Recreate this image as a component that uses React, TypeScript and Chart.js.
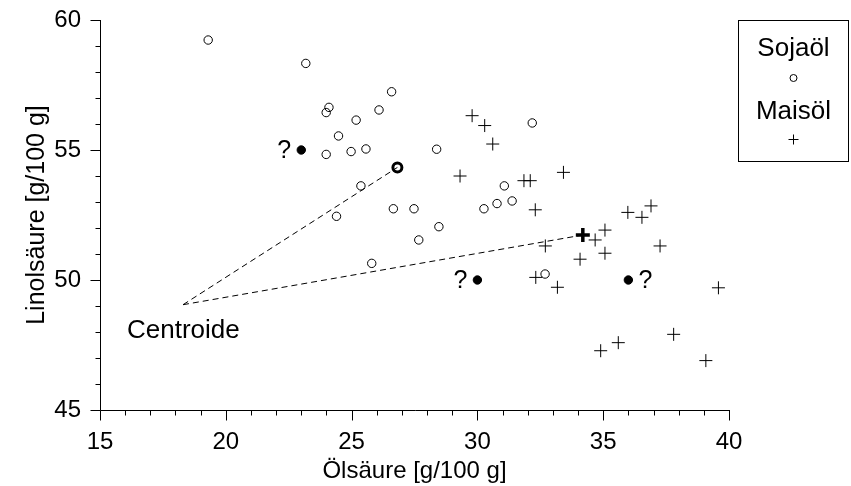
import React, { useEffect, useRef } from "react";
import { Chart, registerables } from "chart.js";

Chart.register(...registerables);

// ---- data ----
const sojaX = [19.3, 23.18, 24.1, 23.99, 26.09, 26.59, 25.18, 24.48, 23.99, 24.98, 25.57, 28.38, 32.18, 25.37, 24.4, 26.66, 27.48, 28.47, 27.67, 25.8, 30.26, 30.78, 31.38, 31.07, 32.69];
const sojaY = [59.23, 58.33, 56.64, 56.44, 56.54, 57.24, 56.15, 55.54, 54.83, 54.94, 55.04, 55.03, 56.04, 53.62, 52.45, 52.74, 52.74, 52.05, 51.54, 50.64, 52.74, 52.94, 53.04, 53.62, 50.23];

const maisX = [29.79, 30.29, 30.61, 29.31, 31.85, 32.1, 33.42, 32.3, 32.7, 32.32, 33.18, 34.08, 34.68, 35.07, 35.07, 35.98, 36.54, 36.9, 37.26, 39.58, 37.8, 35.6, 34.9, 39.08];
const maisY = [56.32, 55.94, 55.23, 54.0, 53.82, 53.82, 54.14, 52.7, 51.31, 50.1, 49.72, 50.8, 51.54, 51.92, 51.03, 52.6, 52.41, 52.85, 51.31, 49.7, 47.91, 47.59, 47.28, 46.9];

const unknownX = [23, 30, 36];
const unknownY = [55, 50, 50];
const unknownLabel = ["?", "?", "?"];
const unknownSide = ["left", "left", "right"];

const centroidAll = { x: 18.3, y: 49.05 };
const centroidSoja = { x: 26.82, y: 54.33 };
const centroidMais = { x: 34.19, y: 51.73 };
const centroidLabel = "Centroide";

const xMin = 15, xMax = 40, xMajor = 5, xMinor = 1;
const yMin = 45, yMax = 60, yMajor = 5, yMinor = 1;
const xTitle = "Ölsäure [g/100 g]";
const yTitle = "Linolsäure [g/100 g]";
const legendLabels = ["Sojaöl", "Maisöl"];

const FONT = "'Liberation Sans', Arial, Helvetica, sans-serif";

const overlay = {
  id: "overlay",
  afterDraw(chart: any) {
    const ctx = chart.ctx;
    const xs = chart.scales.x;
    const ys = chart.scales.y;
    const ca = chart.chartArea;
    ctx.save();
    ctx.strokeStyle = "#000";
    ctx.fillStyle = "#000";
    ctx.lineWidth = 1;
    // axes
    const ax = Math.round(ca.left) + 0.5;
    const ay = Math.round(ca.bottom) + 0.5;
    ctx.beginPath();
    ctx.moveTo(ax, Math.round(ca.top));
    ctx.lineTo(ax, ay);
    ctx.lineTo(Math.round(ca.right) + 1, ay);
    ctx.stroke();
    // ticks
    ctx.beginPath();
    for (let v = xMin; v <= xMax + 1e-9; v += xMinor) {
      const px = Math.round(xs.getPixelForValue(v)) + 0.5;
      const len = Math.abs(v % xMajor) < 1e-9 ? 10 : 5;
      ctx.moveTo(px, ay);
      ctx.lineTo(px, ay + len);
    }
    for (let v = yMin; v <= yMax + 1e-9; v += yMinor) {
      const py = Math.round(ys.getPixelForValue(v)) + 0.5;
      const len = Math.abs(v % yMajor) < 1e-9 ? 10 : 5;
      ctx.moveTo(ax, py);
      ctx.lineTo(ax - len, py);
    }
    ctx.stroke();

    // annotations
    ctx.font = `25px ${FONT}`;
    ctx.textBaseline = "middle";
    ctx.textAlign = "center";
    for (let i = 0; i < unknownX.length; i++) {
      const px = xs.getPixelForValue(unknownX[i]);
      const py = ys.getPixelForValue(unknownY[i]);
      const dx = unknownSide[i] === "left" ? -17 : 17;
      ctx.fillText(unknownLabel[i], px + dx, py + 1);
    }
    ctx.font = `26px ${FONT}`;
    const cx = xs.getPixelForValue(centroidAll.x);
    const cy = ys.getPixelForValue(centroidAll.y);
    ctx.textAlign = "left";
    ctx.fillText(centroidLabel, cx - 56, cy + 26);

    // legend
    const L = 738.5, T = 20.5, W = 110, H = 141;
    ctx.strokeRect(L, T, W, H);
    const mx = L + W / 2;
    ctx.textAlign = "center";
    ctx.fillText(legendLabels[0], mx, 49);
    ctx.fillText(legendLabels[1], mx, 112);
    ctx.beginPath();
    ctx.arc(mx, 78, 3.5, 0, Math.PI * 2);
    ctx.stroke();
    ctx.beginPath();
    ctx.moveTo(mx - 5, 139.5);
    ctx.lineTo(mx + 5, 139.5);
    ctx.moveTo(mx, 134.5);
    ctx.lineTo(mx, 144.5);
    ctx.stroke();
    ctx.restore();
  },
};

export default function App() {
  const ref = useRef<HTMLCanvasElement | null>(null);
  useEffect(() => {
    if (!ref.current) return;
    const soja = sojaX.map((x, i) => ({ x, y: sojaY[i] }));
    const mais = maisX.map((x, i) => ({ x, y: maisY[i] }));
    const unknown = unknownX.map((x, i) => ({ x, y: unknownY[i] }));
    const chart = new Chart(ref.current, {
      type: "scatter",
      data: {
        datasets: [
          {
            label: "line1",
            data: [centroidAll, centroidSoja],
            showLine: true,
            borderColor: "#000",
            borderWidth: 1,
            borderDash: [6, 4],
            pointRadius: 0,
            order: 10,
          },
          {
            label: "line2",
            data: [centroidAll, centroidMais],
            showLine: true,
            borderColor: "#000",
            borderWidth: 1,
            borderDash: [6, 4],
            pointRadius: 0,
            order: 10,
          },
          {
            label: legendLabels[0],
            data: soja,
            pointStyle: "circle",
            pointRadius: 4.2,
            borderColor: "#000",
            backgroundColor: "rgba(0,0,0,0)",
            borderWidth: 1,
          },
          {
            label: legendLabels[1],
            data: mais,
            pointStyle: "cross",
            pointRadius: 6.5,
            borderColor: "#000",
            borderWidth: 1,
          },
          {
            label: "unknown",
            data: unknown,
            pointStyle: "circle",
            pointRadius: 4.2,
            borderColor: "#000",
            backgroundColor: "#000",
            borderWidth: 1,
          },
          {
            label: "centroidSoja",
            data: [centroidSoja],
            pointStyle: "circle",
            pointRadius: 4.5,
            borderColor: "#000",
            backgroundColor: "rgba(0,0,0,0)",
            borderWidth: 3,
          },
          {
            label: "centroidMais",
            data: [centroidMais],
            pointStyle: "cross",
            pointRadius: 7,
            borderColor: "#000",
            borderWidth: 3.5,
          },
        ],
      },
      options: {
        animation: false,
        responsive: false,
        devicePixelRatio: 1,
        layout: { padding: { top: 20, right: 122, left: 0, bottom: 0 } },
        plugins: { legend: { display: false }, tooltip: { enabled: false } },
        scales: {
          x: {
            type: "linear",
            min: xMin,
            max: xMax,
            position: "bottom",
            grid: { display: false, drawTicks: false },
            border: { display: false },
            ticks: { stepSize: xMajor, color: "#000", font: { size: 24, family: FONT }, padding: 18, maxRotation: 0 },
            title: { display: true, text: xTitle, color: "#000", font: { size: 24, family: FONT }, padding: { top: 0, bottom: 0 } },
            afterFit: (s: any) => { s.height = 76; s.paddingLeft = 0; s.paddingRight = 0; },
          },
          y: {
            type: "linear",
            min: yMin,
            max: yMax,
            grid: { display: false, drawTicks: false },
            border: { display: false },
            ticks: { stepSize: yMajor, color: "#000", font: { size: 24, family: FONT }, padding: 19 },
            title: { display: true, text: yTitle, color: "#000", font: { size: 25, family: FONT }, padding: { top: 22, bottom: 0 } },
            afterFit: (s: any) => { s.width = 100; s.paddingTop = 0; s.paddingBottom = 0; },
          },
        },
      },
      plugins: [overlay],
    });
    return () => chart.destroy();
  }, []);
  return (
    <div style={{ position: "fixed", left: 0, top: 0, width: 851, height: 486, background: "#fff" }}>
      <canvas ref={ref} width={851} height={486} style={{ width: 851, height: 486 }} />
    </div>
  );
}
